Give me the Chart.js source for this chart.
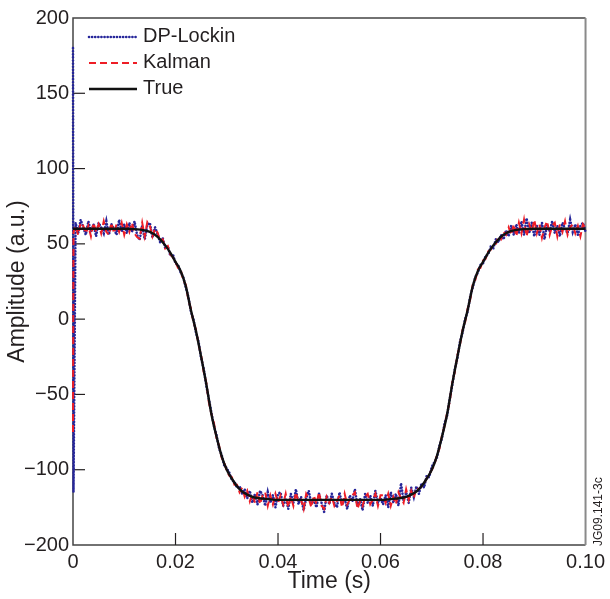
<!DOCTYPE html>
<html>
<head>
<meta charset="utf-8">
<script src="https://cdn.jsdelivr.net/npm/chart.js@4.4.1/dist/chart.umd.min.js"></script>
<style>
  html, body { margin: 0; padding: 0; background: #fff; }
  canvas { display: block; }
</style>
</head>
<body>
<canvas id="amp-chart" width="610" height="599"></canvas>
<script>
// sample times (s) for the two estimated traces
const sampleTime = [0, 0.0001,
    0.0005, 0.001, 0.0015, 0.002, 0.0025, 0.003, 0.0035, 0.004, 0.0045, 0.005, 0.0055, 0.006, 0.0065, 0.007, 0.0075, 0.008, 0.0085, 0.009, 0.0095, 0.010,
    0.0105, 0.011, 0.0115, 0.012, 0.0125, 0.013, 0.0135, 0.014, 0.0145, 0.015, 0.0155, 0.016, 0.0165, 0.017, 0.0175, 0.018, 0.0185, 0.019, 0.0195, 0.020,
    0.0205, 0.021, 0.0215, 0.022, 0.0225, 0.023, 0.0235, 0.024, 0.0245, 0.025, 0.0255, 0.026, 0.0265, 0.027, 0.0275, 0.028, 0.0285, 0.029, 0.0295, 0.030,
    0.0305, 0.031, 0.0315, 0.032, 0.0325, 0.033, 0.0335, 0.034, 0.0345, 0.035, 0.0355, 0.036, 0.0365, 0.037, 0.0375, 0.038, 0.0385, 0.039, 0.0395, 0.040,
    0.0405, 0.041, 0.0415, 0.042, 0.0425, 0.043, 0.0435, 0.044, 0.0445, 0.045, 0.0455, 0.046, 0.0465, 0.047, 0.0475, 0.048, 0.0485, 0.049, 0.0495, 0.050,
    0.0505, 0.051, 0.0515, 0.052, 0.0525, 0.053, 0.0535, 0.054, 0.0545, 0.055, 0.0555, 0.056, 0.0565, 0.057, 0.0575, 0.058, 0.0585, 0.059, 0.0595, 0.060,
    0.0605, 0.061, 0.0615, 0.062, 0.0625, 0.063, 0.0635, 0.064, 0.0645, 0.065, 0.0655, 0.066, 0.0665, 0.067, 0.0675, 0.068, 0.0685, 0.069, 0.0695, 0.070,
    0.0705, 0.071, 0.0715, 0.072, 0.0725, 0.073, 0.0735, 0.074, 0.0745, 0.075, 0.0755, 0.076, 0.0765, 0.077, 0.0775, 0.078, 0.0785, 0.079, 0.0795, 0.080,
    0.0805, 0.081, 0.0815, 0.082, 0.0825, 0.083, 0.0835, 0.084, 0.0845, 0.085, 0.0855, 0.086, 0.0865, 0.087, 0.0875, 0.088, 0.0885, 0.089, 0.0895, 0.090,
    0.0905, 0.091, 0.0915, 0.092, 0.0925, 0.093, 0.0935, 0.094, 0.0945, 0.095, 0.0955, 0.096, 0.0965, 0.097, 0.0975, 0.098, 0.0985, 0.099, 0.0995, 0.100];

const dpLockin = [180, -115,
    64, 57, 66, 61, 56, 65, 58, 63, 55, 64, 61, 57, 65, 56, 63, 60, 56, 66, 58, 63,
    57, 64, 58, 65, 56, 52.5, 62, 53, 62.5, 64, 54, 61, 56.5, 51, 54, 47, 48.5, 42, 43, 37,
    36, 31, 28, 21, 15, 5, 0, -9, -15, -26, -33, -44, -53, -62, -71, -77, -86, -90, -97, -99,
    -102, -107, -108, -112, -111, -116, -113, -119, -114, -122, -116, -123, -114, -117, -124, -115, -122, -117, -125, -116,
    -115, -124, -119, -126, -116, -122, -113, -123, -118, -127, -119, -114, -123, -120, -125, -116, -122, -128, -117, -123,
    -116, -122, -125, -115, -123, -119, -126, -117, -121, -113, -124, -119, -127, -116, -122, -117, -124, -114, -122, -119,
    -123, -117, -125, -115, -122, -116, -124, -109, -121, -115, -122, -112, -118, -111, -116, -109, -112, -104, -105, -98,
    -95, -92, -84, -79, -69, -64, -53, -44, -33, -26, -15, -9, 0, 5, 15, 21, 28, 31, 36, 37,
    42, 43, 48, 47, 53, 51, 56, 53, 59, 55, 62, 56, 63, 57, 65, 56, 67, 57, 64, 55,
    62, 56, 64, 53, 63, 58, 65, 57, 62, 55, 64, 60, 57, 66, 58, 63, 56, 62, 64, 58];

const kalman = [-75, 58,
    62, 56, 64, 62, 57, 62, 55, 64, 58, 63, 57, 65, 58, 56, 64, 57, 63, 58, 64, 56,
    63, 58, 64, 57, 54.5, 53.5, 64, 55, 64.5, 62, 55, 60, 57.5, 52, 53, 47, 48.5, 43, 41, 38,
    34, 33, 26, 23, 13, 7, -2, -7, -17, -24, -35, -42, -55, -63, -69, -79, -84, -92, -95, -101,
    -104, -105, -110, -110, -115, -112, -118, -114, -121, -116, -122, -115, -123, -117, -115, -124, -117, -123, -116, -122,
    -117, -123, -116, -125, -118, -124, -115, -122, -120, -126, -116, -119, -125, -117, -123, -115, -124, -126, -118, -122,
    -118, -124, -121, -117, -125, -116, -123, -120, -117, -115, -126, -121, -124, -118, -116, -123, -120, -116, -124, -117,
    -117, -122, -116, -124, -118, -123, -115, -119, -122, -113, -120, -114, -119, -112, -113, -111, -109, -106, -103, -100,
    -97, -90, -86, -77, -71, -62, -55, -42, -35, -24, -17, -7, -2, 7, 13, 23, 26, 33, 34, 39,
    40, 45, 46, 50, 50, 55, 53, 58, 56, 61, 56, 63, 55, 64, 57, 66, 55, 63, 58, 66,
    57, 63, 54, 61, 65, 56, 62, 64, 55, 63, 58, 65, 56, 61, 63, 57, 62, 55, 63, 60];

// true amplitude
const trueTime = [0, 0.005, 0.010, 0.012, 0.014,
    0.015, 0.016, 0.017, 0.018, 0.019, 0.020, 0.021, 0.022, 0.023, 0.024, 0.025,
    0.026, 0.027, 0.028, 0.029, 0.030, 0.031, 0.032, 0.033, 0.034, 0.035, 0.036,
    0.038, 0.040, 0.050, 0.060, 0.062, 0.064,
    0.065, 0.066, 0.067, 0.068, 0.069, 0.070, 0.071, 0.072, 0.073, 0.074, 0.075,
    0.076, 0.077, 0.078, 0.079, 0.080, 0.081, 0.082, 0.083, 0.084, 0.085, 0.086,
    0.088, 0.090, 0.095, 0.100];
const trueAmp = [60, 60, 60, 59.8, 59,
    58, 56, 53, 49, 44, 38, 32, 22, 6, -8, -25,
    -43, -63, -78, -91, -100, -106, -111, -114.5, -116.5, -118, -118.8,
    -119.5, -120, -120, -120, -119.5, -118.8,
    -118, -116.5, -114.5, -111, -106, -100, -91, -78, -63, -43, -25,
    -8, 6, 22, 32, 38, 44, 49, 53, 56, 58, 59,
    59.8, 60, 60, 60];

const xTickValues = [0, 0.02, 0.04, 0.06, 0.08, 0.10];
const xTickLabels = ['0', '0.02', '0.04', '0.06', '0.08', '0.10'];
const yTickValues = [-150, -100, -50, 0, 50, 100, 150, 200];
const yTickLabels = ['\u2212200', '\u2212100', '\u221250', '0', '50', '100', '150', '200'];

const FONT = "'Liberation Sans', Arial, Helvetica, sans-serif";
const INK = '#231f20';

const labelFor = (values, labels) => (v) => {
    const i = values.findIndex((t) => Math.abs(t - v) < 1e-9);
    return i >= 0 ? labels[i] : '';
};

// box around the plot + inward tick marks
const frameAndTicks = {
    id: 'frameAndTicks',
    beforeDatasetsDraw(chart) {
        const { ctx, chartArea: a, scales } = chart;
        ctx.save();
        ctx.lineWidth = 1.5;
        ctx.strokeStyle = '#444';
        ctx.beginPath();
        ctx.moveTo(a.right, a.top); ctx.lineTo(a.left, a.top); ctx.lineTo(a.left, a.bottom); ctx.lineTo(a.right, a.bottom);
        ctx.stroke();
        ctx.strokeStyle = '#8a8a8a';
        ctx.lineWidth = 2;
        ctx.beginPath(); ctx.moveTo(a.right, a.top); ctx.lineTo(a.right, a.bottom); ctx.stroke();
        ctx.strokeStyle = INK;
        ctx.lineWidth = 1.2;
        scales.x.ticks.forEach((t) => {
            const px = scales.x.getPixelForValue(t.value);
            if (px <= a.left + 1 || px >= a.right - 1) return;
            ctx.beginPath(); ctx.moveTo(px, a.bottom); ctx.lineTo(px, a.bottom - 12); ctx.stroke();
        });
        scales.y.ticks.forEach((t) => {
            const py = scales.y.getPixelForValue(t.value);
            if (py <= a.top + 1 || py >= a.bottom - 1) return;
            ctx.beginPath(); ctx.moveTo(a.left, py); ctx.lineTo(a.left + 12, py); ctx.stroke();
        });
        ctx.restore();
    },
    afterDraw(chart) {
        const { ctx } = chart;
        // legend in the upper left of the plot
        const rows = [37, 63, 89];
        chart.data.datasets.forEach((ds, i) => {
            const y = rows[i];
            ctx.save();
            ctx.strokeStyle = ds.borderColor;
            ctx.lineWidth = ds.borderWidth;
            ctx.lineCap = ds.borderCapStyle || 'butt';
            ctx.setLineDash(ds.borderDash || []);
            ctx.beginPath(); ctx.moveTo(89, y); ctx.lineTo(137, y); ctx.stroke();
            ctx.setLineDash([]);
            ctx.fillStyle = INK;
            ctx.font = '20px ' + FONT;
            ctx.textBaseline = 'middle';
            ctx.fillText(ds.label, 143, y - 1);
            ctx.restore();
        });
        // figure id at the right edge
        ctx.save();
        ctx.translate(599, 546);
        ctx.rotate(-Math.PI / 2);
        ctx.fillStyle = INK;
        ctx.font = '12px ' + FONT;
        ctx.textBaseline = 'middle';
        ctx.fillText('JG09.141-3c', 0, 0);
        ctx.restore();
    }
};

const canvas = document.getElementById('amp-chart');
new Chart(canvas.getContext('2d'), {
    type: 'line',
    data: {
        datasets: [{
            label: 'DP-Lockin',
            data: sampleTime.map((t, i) => ({ x: t, y: dpLockin[i] })),
            borderColor: '#26269a',
            borderWidth: 2.6,
            borderDash: [0.1, 3],
            borderCapStyle: 'round',
            pointRadius: 0,
            tension: 0,
            clip: false,
            order: 3
        }, {
            label: 'Kalman',
            data: sampleTime.map((t, i) => ({ x: t, y: kalman[i] })),
            borderColor: '#ee1d25',
            borderWidth: 2,
            borderDash: [7, 4],
            pointRadius: 0,
            tension: 0,
            clip: false,
            order: 2
        }, {
            label: 'True',
            data: trueTime.map((t, i) => ({ x: t, y: trueAmp[i] })),
            borderColor: '#111111',
            borderWidth: 2.4,
            pointRadius: 0,
            cubicInterpolationMode: 'monotone',
            clip: false,
            order: 1
        }]
    },
    options: {
        responsive: false,
        animation: false,
        layout: { padding: { top: 18, right: 24, left: 0, bottom: 0 } },
        plugins: {
            legend: { display: false },
            tooltip: { enabled: false }
        },
        scales: {
            x: {
                type: 'linear',
                min: 0,
                max: 0.1,
                afterBuildTicks: (s) => { s.ticks = xTickValues.map((v) => ({ value: v })); },
                afterFit: (s) => { s.height = 54; },
                ticks: {
                    callback: labelFor(xTickValues, xTickLabels),
                    font: { family: FONT, size: 20 },
                    color: INK,
                    padding: 5,
                    maxRotation: 0,
                    autoSkip: false
                },
                grid: { display: true, drawOnChartArea: false, drawTicks: false },
                border: { display: false },
                title: {
                    display: true,
                    text: 'Time (s)',
                    font: { family: FONT, size: 23 },
                    color: INK,
                    padding: { top: 0, bottom: 4 }
                }
            },
            y: {
                type: 'linear',
                min: -150,
                max: 200,
                afterBuildTicks: (s) => { s.ticks = yTickValues.map((v) => ({ value: v })); },
                afterFit: (s) => { s.width = 73; },
                ticks: {
                    callback: labelFor(yTickValues, yTickLabels),
                    font: { family: FONT, size: 20 },
                    color: INK,
                    padding: 4,
                    autoSkip: false
                },
                grid: { display: true, drawOnChartArea: false, drawTicks: false },
                border: { display: false },
                title: {
                    display: true,
                    text: 'Amplitude (a.u.)',
                    font: { family: FONT, size: 23 },
                    color: INK,
                    padding: { top: 4, bottom: 0 }
                }
            }
        }
    },
    plugins: [frameAndTicks]
});
</script>
</body>
</html>
